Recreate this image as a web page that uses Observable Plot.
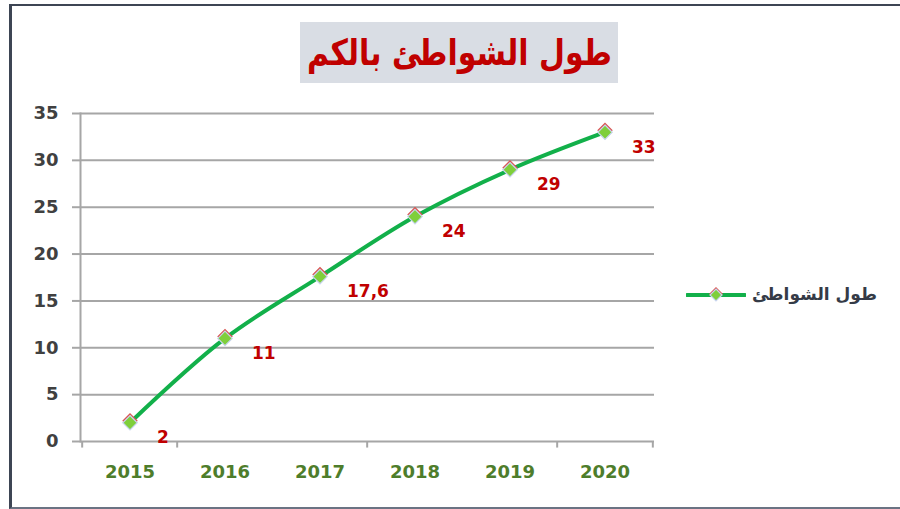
<!DOCTYPE html>
<html>
<head>
<meta charset="utf-8">
<script src="https://cdn.jsdelivr.net/npm/d3@7"></script>
<script src="https://cdn.jsdelivr.net/npm/@observablehq/plot@0.6"></script>
<style>
  html, body { margin: 0; padding: 0; background: #fff; }
  #wrap { position: relative; width: 900px; height: 509px; overflow: hidden; font-family: "DejaVu Sans", sans-serif; }
  #border { position: absolute; left: 9px; top: 4px; width: 900px; height: 501px;
            border-left: 3px solid #3d4554; border-top: 2px solid #3d4554; border-bottom: 2px solid #6b7383; }
  #title { position: absolute; left: 300px; top: 22px; width: 318px; height: 61px; background: #d9dde4;
           display: flex; align-items: center; justify-content: center; overflow: hidden; }
  #titleText { color: #c00000; font: bold 36px "DejaVu Sans", sans-serif; direction: rtl; white-space: nowrap;
               display: inline-block; transform-origin: center center; }
  #legend { position: absolute; left: 686px; top: 280px; height: 28px; display: flex; align-items: center; gap: 6px; }
  #legend span { color: #353b47; font: bold 17px "DejaVu Sans", sans-serif; direction: rtl; white-space: nowrap; }
  #chart { position: absolute; left: 0; top: 0; }
</style>
</head>
<body>
<div id="wrap">
  <div id="border"></div>
  <div id="chart"></div>
  <div id="title"><span id="titleText"></span></div>
  <div id="legend">
    <svg width="60" height="20" viewBox="0 0 60 20">
      <line x1="1" y1="11" x2="59" y2="11" stroke="#12b04a" stroke-width="4" stroke-linecap="round"/>
      <path d="M30,3 L37,10 L30,17 L23,10 Z" fill="#d9534f"/>
      <path d="M30,5 L36,11 L30,17 L24,11 Z" fill="#7fcf3b" stroke="#c8d5ee" stroke-width="1.2"/>
    </svg>
    <span id="legendText"></span>
  </div>
</div>
<script>
const titleText = "طول الشواطئ بالكم";
const seriesName = "طول الشواطئ";
const years = ["2015", "2016", "2017", "2018", "2019", "2020"];
const values = [2, 11, 17.6, 24, 29, 33];
const valueLabels = ["2", "11", "17,6", "24", "29", "33"];
const yTicks = [0, 5, 10, 15, 20, 25, 30, 35];
const xTickYears = ["2016", "2018", "2020"];

const tEl = document.getElementById("titleText");
tEl.textContent = titleText;
const tw = tEl.getBoundingClientRect().width;
if (tw > 0) tEl.style.transform = `scaleX(${305 / tw})`;
document.getElementById("legendText").textContent = seriesName;

const data = years.map((year, i) => ({ year, value: values[i], label: valueLabels[i] }));

const W = 900, H = 509;
const mL = 80, mR = 246, mT = 113, mB = 68;
const bw = (W - mL - mR) / years.length;

const chart = Plot.plot({
  width: W,
  height: H,
  marginLeft: mL,
  marginRight: mR,
  marginTop: mT,
  marginBottom: mB,
  style: { background: "transparent", fontFamily: "DejaVu Sans, sans-serif" },
  x: { type: "band", domain: years, padding: 0 },
  y: { domain: [0, 35] },
  marks: [
    Plot.gridY(yTicks, { stroke: "#a6a6a6", strokeOpacity: 1, strokeWidth: 2 }),
    Plot.frame({ anchor: "left", stroke: "#a6a6a6", strokeWidth: 2 }),
    Plot.ruleX(xTickYears, { x: d => d, dx: -bw / 2, y1: 0, y2: -0.7, stroke: "#a6a6a6", strokeWidth: 2 }),
    Plot.ruleX(["2020"], { x: d => d, dx: bw / 2, y1: 0, y2: -0.7, stroke: "#a6a6a6", strokeWidth: 2 }),
    Plot.ruleX(["2015"], { x: d => d, dx: -bw / 2, y1: 0, y2: -0.7, stroke: "#a6a6a6", strokeWidth: 2 }),
    Plot.axisY({ ticks: yTicks, tickSize: 8, tickPadding: 14, fontSize: 18, fontWeight: "bold",
                 fill: "#404040", stroke: "#a6a6a6", strokeWidth: 2, label: null }),
    Plot.axisX({ tickSize: 0, tickPadding: 24, fontSize: 18, fontWeight: "bold", fill: "#4e7d2b", label: null }),
    Plot.line(data, { x: "year", y: "value", curve: "catmull-rom", stroke: "#12b04a", strokeWidth: 4 }),
    Plot.dot(data, { x: "year", y: "value", symbol: "diamond2", r: 7, fill: "#d9534f", dy: -2 }),
    Plot.dot(data, { x: "year", y: "value", symbol: "diamond2", r: 6.5, fill: "#7fcf3b", stroke: "#c8d5ee", strokeWidth: 1.2 }),
    Plot.text(data, { x: "year", y: "value", text: "label", textAnchor: "start", dx: 27, dy: 15,
                      fill: "#c00000", fontSize: 17, fontWeight: "bold" })
  ]
});
document.getElementById("chart").appendChild(chart);
</script>
</body>
</html>
